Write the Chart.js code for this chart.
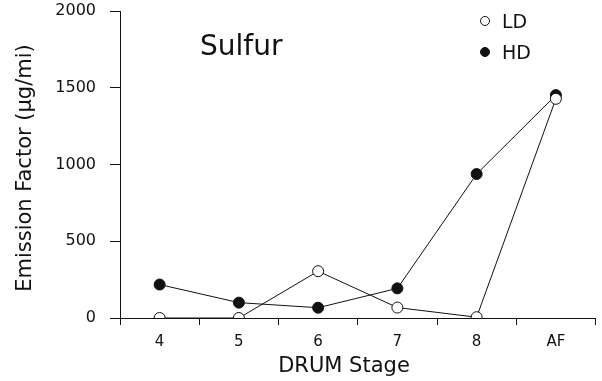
<!DOCTYPE html>
<html>
<head>
<meta charset="utf-8">
<script src="https://cdn.jsdelivr.net/npm/chart.js@4"></script>
<style>
  body { margin: 0; background: #fff; }
  canvas { display: block; }
</style>
</head>
<body>
<canvas id="sulfur_chart" width="602" height="381"></canvas>
<script>
var stages = ["4", "5", "6", "7", "8", "AF"];
var ldValues = [0, 0, 305, 68, 5, 1428];
var hdValues = [218, 100, 67, 193, 938, 1452];
var yTicks = [0, 500, 1000, 1500, 2000];

var FONT = "'DejaVu Sans', sans-serif";
var INK = '#111';

// panel label, hand-placed legend and axis titles
var annotations = {
    id: 'annotations',
    afterDraw: function (chart) {
        var ctx = chart.ctx;
        ctx.save();
        ctx.fillStyle = INK;
        ctx.textBaseline = 'alphabetic';

        ctx.font = '28px ' + FONT;
        ctx.textAlign = 'left';
        ctx.fillText('Sulfur', 200, 55);

        ctx.font = '21px ' + FONT;
        ctx.textAlign = 'center';
        ctx.fillText('DRUM Stage', 344, 372);

        ctx.translate(31, 168);
        ctx.rotate(-Math.PI / 2);
        ctx.fillText('Emission Factor (\u00b5g/mi)', 0, 0);
        ctx.restore();

        // legend
        ctx.save();
        ctx.font = '19px ' + FONT;
        ctx.textAlign = 'left';
        ctx.textBaseline = 'alphabetic';
        var rowY = [21, 52];
        chart.data.datasets.forEach(function (ds, i) {
            var y = rowY[i];
            ctx.beginPath();
            ctx.arc(485, y, 4.5, 0, Math.PI * 2);
            ctx.fillStyle = ds.pointBackgroundColor;
            ctx.fill();
            ctx.lineWidth = 1;
            ctx.strokeStyle = INK;
            ctx.stroke();
            ctx.fillStyle = INK;
            ctx.fillText(ds.label, 502, y + 7);
        });
        ctx.restore();
    }
};

function getChartJs() {
    var config = {
        type: 'line',
        data: {
            labels: stages,
            datasets: [{
                label: "LD",
                data: ldValues,
                borderColor: INK,
                borderWidth: 1,
                pointRadius: 5.5,
                pointBorderWidth: 1,
                pointBackgroundColor: '#fff',
                pointBorderColor: INK,
                tension: 0
            }, {
                label: "HD",
                data: hdValues,
                borderColor: INK,
                borderWidth: 1,
                pointRadius: 5.5,
                pointBorderWidth: 1,
                pointBackgroundColor: INK,
                pointBorderColor: INK,
                tension: 0
            }]
        },
        options: {
            responsive: false,
            animation: false,
            layout: { padding: { top: 11, right: 2, left: 0, bottom: 0 } },
            plugins: {
                legend: { display: false },
                tooltip: { enabled: false }
            },
            scales: {
                x: {
                    offset: true,
                    afterFit: function (s) {
                        s.height = 63;
                        s.paddingLeft = 0;
                        s.paddingRight = 0;
                    },
                    grid: {
                        offset: true,
                        drawOnChartArea: false,
                        tickLength: 7,
                        tickColor: INK
                    },
                    border: { color: INK, width: 1 },
                    ticks: {
                        color: INK,
                        padding: 8,
                        font: { family: FONT, size: 15 }
                    }
                },
                y: {
                    min: 0,
                    max: 2000,
                    afterFit: function (s) {
                        s.width = 120;
                        s.paddingTop = 0;
                        s.paddingBottom = 0;
                    },
                    afterBuildTicks: function (s) {
                        s.ticks = yTicks.map(function (v) { return { value: v }; });
                    },
                    grid: {
                        drawOnChartArea: false,
                        tickLength: 10,
                        tickColor: INK
                    },
                    border: { color: INK, width: 1 },
                    ticks: {
                        color: INK,
                        padding: 14,
                        font: { family: FONT, size: 16 },
                        callback: function (v) { return String(v); }
                    }
                }
            }
        },
        plugins: [annotations]
    };
    return config;
}

new Chart(document.getElementById("sulfur_chart").getContext("2d"), getChartJs());
</script>
</body>
</html>
